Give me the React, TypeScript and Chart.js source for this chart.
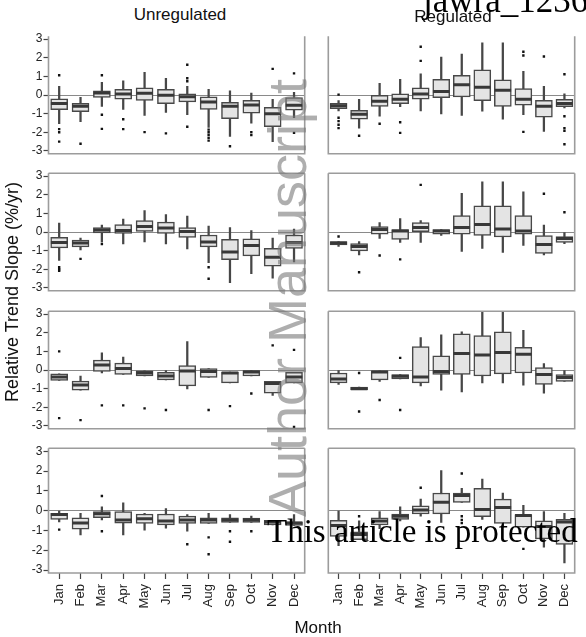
import React, { useEffect, useRef } from 'react';
import { Chart, registerables } from 'chart.js';

Chart.register(...registerables);
Chart.defaults.font.family = "'Liberation Sans', Arial, sans-serif";

const months = ['Jan', 'Feb', 'Mar', 'Apr', 'May', 'Jun', 'Jul', 'Aug', 'Sep', 'Oct', 'Nov', 'Dec'];
const yTicks = [-3, -2, -1, 0, 1, 2, 3];
const Y_MIN = -3.15;
const Y_MAX = 3.15;
const columnTitles = ['Unregulated', 'Regulated'];
const xTitle = 'Month';
const yTitle = 'Relative Trend Slope (%/yr)';

// each month: [whisker low, Q1, median, Q3, whisker high]
const unreg1: number[][] = [
  [-1.54, -0.79, -0.45, -0.21, 0.47], [-1.43, -0.9, -0.61, -0.45, -0.13], [-0.61, -0.13, 0.11, 0.23, 0.68],
  [-0.77, -0.23, 0.06, 0.31, 0.76], [-1.09, -0.29, 0.1, 0.39, 1.22], [-0.93, -0.47, -0.02, 0.31, 0.9],
  [-1.06, -0.37, -0.1, 0.06, 0.47], [-1.74, -0.77, -0.37, -0.1, 0.31], [-2.22, -1.27, -0.61, -0.39, 0.23],
  [-1.51, -0.98, -0.53, -0.29, 0.1], [-2.5, -1.7, -1.01, -0.66, -0.23], [-1.22, -0.82, -0.55, -0.14, 0.14],
];
const unreg1Out: number[][] = [
  [1.06, -1.83, -2.0, -2.5], [-2.62], [1.06, -1.06, -1.82], [-1.3, -1.83], [-1.99], [-2.06],
  [1.62, 0.9, 0.74, -1.7], [-1.86, -2.0, -2.15, -2.3, -2.45], [-2.75], [-1.99, -2.15], [1.4], [1.16, -2.03],
];
const reg1: number[][] = [
  [-0.85, -0.74, -0.58, -0.45, -0.3], [-1.78, -1.3, -1.03, -0.82, -0.23], [-1.14, -0.61, -0.34, -0.02, 0.63],
  [-0.63, -0.47, -0.23, 0.06, 0.84], [-0.85, -0.23, 0.06, 0.39, 1.14], [-1.01, -0.14, 0.19, 0.84, 2.04],
  [-1.09, -0.1, 0.55, 1.06, 2.2], [-0.87, -0.31, 0.42, 1.35, 2.8], [-1.3, -0.61, 0.26, 0.82, 2.8],
  [-1.06, -0.55, -0.23, 0.35, 1.27], [-1.95, -1.19, -0.61, -0.29, 0.47], [-0.7, -0.63, -0.45, -0.23, 0.06],
];
const reg1Out: number[][] = [
  [0.02, -1.22, -1.4, -1.6, -1.78], [-2.19], [-1.54], [-1.46, -2.03], [2.59, 1.83], [],
  [], [], [], [2.32, 2.12, -1.98], [2.07], [1.11, -1.14, -1.78, -1.92, -2.64],
];
const unreg2: number[][] = [
  [-1.52, -0.85, -0.56, -0.29, 0.48], [-0.96, -0.8, -0.59, -0.43, -0.32], [-0.53, -0.05, 0.11, 0.24, 0.37],
  [-0.64, -0.08, 0.08, 0.4, 0.69], [-0.53, 0.03, 0.29, 0.61, 1.15], [-0.64, -0.08, 0.21, 0.53, 0.93],
  [-0.91, -0.29, 0.03, 0.24, 0.85], [-1.65, -0.8, -0.53, -0.16, 0.32], [-2.72, -1.49, -1.07, -0.4, 0.24],
  [-2.24, -1.28, -0.72, -0.37, 0.08], [-2.48, -1.84, -1.36, -0.88, -0.32], [-1.6, -0.88, -0.56, -0.16, 0.16],
];
const unreg2Out: number[][] = [
  [-1.89, -2.0, -2.08], [-1.44], [-0.64], [], [], [], [], [-1.89, -2.51], [], [], [], [],
];
const reg2: number[][] = [
  [-0.78, -0.69, -0.59, -0.51, -0.51], [-1.23, -1.01, -0.78, -0.62, -0.51], [-0.35, -0.11, 0.13, 0.29, 0.5],
  [-0.56, -0.4, 0.05, 0.13, 0.72], [-0.56, 0.02, 0.24, 0.5, 0.61], [-0.19, -0.11, 0.05, 0.13, 0.13],
  [-1.04, -0.11, 0.24, 0.88, 2.08], [-0.88, -0.19, 0.4, 1.41, 2.69], [-1.1, -0.27, 0.16, 1.41, 2.69],
  [-0.72, -0.11, 0.05, 0.88, 2.16], [-1.23, -1.15, -0.67, -0.19, 0.37], [-0.62, -0.56, -0.35, -0.24, -0.03],
];
const reg2Out: number[][] = [
  [-0.24], [-2.16], [-1.26], [-1.47], [2.53], [], [], [], [], [], [2.05], [1.06],
];
const unreg3: number[][] = [
  [-0.56, -0.56, -0.37, -0.21, -0.21], [-1.08, -1.08, -0.81, -0.6, -0.32], [-0.16, -0.08, 0.27, 0.53, 0.92],
  [-0.24, -0.24, 0.08, 0.37, 0.69], [-0.32, -0.32, -0.16, -0.05, -0.05], [-0.53, -0.53, -0.32, -0.13, 0.0],
  [-1.02, -0.85, -0.05, 0.24, 1.53], [-0.4, -0.4, -0.08, 0.08, 0.08], [-0.69, -0.69, -0.16, -0.11, -0.11],
  [-0.32, -0.32, -0.11, 0.0, 0.0], [-1.37, -1.24, -0.73, -0.61, -0.61], [-0.69, -0.69, -0.37, -0.13, -0.13],
];
const unreg3Out: number[][] = [
  [1.0, -2.58], [-2.69], [-1.9], [-1.9], [-2.06], [-2.15], [], [-2.15], [-1.94], [-1.26], [1.32], [1.08, -3.05],
];
const reg3: number[][] = [
  [-0.77, -0.69, -0.48, -0.16, 0.0], [-1.05, -1.05, -1.0, -0.92, -0.92], [-0.61, -0.53, -0.11, -0.05, -0.05],
  [-0.48, -0.48, -0.34, -0.24, -0.24], [-0.85, -0.69, -0.37, 1.26, 1.74], [-1.08, -0.24, -0.08, 0.76, 1.89],
  [-1.18, -0.24, 0.89, 1.94, 2.05], [-0.69, -0.32, 0.81, 1.85, 3.1], [-0.69, -0.21, 0.94, 2.05, 3.1],
  [-0.81, -0.16, 0.85, 1.21, 2.13], [-1.24, -0.77, -0.24, 0.13, 0.35], [-0.61, -0.61, -0.4, -0.24, -0.03],
];
const reg3Out: number[][] = [
  [], [-0.16, -2.23], [-1.61], [0.65, -2.15], [], [], [], [], [], [], [], [],
];
const unreg4: number[][] = [
  [-0.57, -0.44, -0.2, -0.13, 0.0], [-1.22, -0.94, -0.63, -0.36, -0.13], [-0.47, -0.36, -0.16, -0.05, 0.19],
  [-1.22, -0.63, -0.47, -0.05, 0.39], [-0.99, -0.64, -0.41, -0.17, -0.13], [-0.88, -0.72, -0.52, -0.17, 0.11],
  [-1.04, -0.64, -0.47, -0.28, -0.2], [-0.64, -0.64, -0.47, -0.36, -0.13], [-0.6, -0.6, -0.47, -0.36, -0.2],
  [-0.6, -0.6, -0.47, -0.38, -0.28], [-0.72, -0.72, -0.57, -0.49, -0.49], [-0.75, -0.75, -0.63, -0.57, -0.2],
];
const unreg4Out: number[][] = [
  [-0.96], [], [0.74, -1.04], [], [], [], [-1.7], [-1.35, -2.2], [-1.04, -1.57], [-1.04], [], [],
];
const reg4: number[][] = [
  [-1.77, -1.3, -0.75, -0.49, 0.0], [-1.46, -1.46, -1.2, -1.07, -0.52], [-0.91, -0.72, -0.52, -0.36, -0.05],
  [-0.52, -0.44, -0.28, -0.17, 0.19], [-0.28, -0.17, 0.03, 0.24, 0.58], [-0.6, -0.16, 0.42, 0.89, 2.03],
  [0.42, 0.42, 0.77, 0.89, 1.13], [-0.44, -0.31, 0.06, 1.13, 1.6], [-0.83, -0.64, 0.16, 0.58, 0.89],
  [-0.83, -0.83, -0.25, -0.2, 0.27], [-1.85, -1.43, -0.8, -0.52, -0.05], [-2.64, -1.7, -0.57, -0.44, -0.13],
];
const reg4Out: number[][] = [
  [], [-0.28], [], [], [1.16], [], [1.88, -0.28, -0.47, -0.63], [], [], [-1.93], [], [],
];

// layout (styling only)
const COLS = [
  { left: 0, width: 316, padL: 0, padR: 2.5, yWidth: 48.5, showY: true },
  { left: 317, width: 269, padL: 3, padR: 1, yWidth: 0, showY: false },
];
const ROWS = [
  { top: 29, bottom: 160.5, borderTop: false },
  { top: 166.5, bottom: 298, borderTop: true },
  { top: 304, bottom: 435.5, borderTop: true },
  { top: 441.5, bottom: 573, borderTop: true },
];
const PAGE_H = 637;

const panelBorder = {
  id: 'panelBorder',
  afterDatasetsDraw(chart: any, _args: any, opts: any) {
    const { left, right, top, bottom } = chart.chartArea;
    const ctx = chart.ctx;
    ctx.save();
    ctx.strokeStyle = '#9c9c9c';
    ctx.lineWidth = 1.6;
    ctx.beginPath();
    if (opts.top) {
      ctx.moveTo(left, top);
      ctx.lineTo(right, top);
    }
    ctx.moveTo(left, top);
    ctx.lineTo(left, bottom);
    ctx.lineTo(right, bottom);
    ctx.lineTo(right, top);
    ctx.stroke();
    ctx.restore();
  },
};

type PanelProps = { stats: number[][]; outliers: number[][]; col: number; row: number };

function Panel({ stats, outliers, col, row }: PanelProps) {
  const ref = useRef<HTMLCanvasElement>(null);
  const c = COLS[col];
  const r = ROWS[row];
  const isBottom = row === ROWS.length - 1;
  const top = Math.floor(r.top - 4);
  const bottom = isBottom ? PAGE_H : Math.ceil(r.bottom + 4);
  const height = bottom - top;
  const padTop = r.top - top;
  const padBottom = isBottom ? 0 : bottom - r.bottom;
  const xHeight = isBottom ? PAGE_H - r.bottom : 0;

  useEffect(() => {
    const whiskers = {
      type: 'bar',
      data: stats.map((s) => [s[0], s[4]]),
      backgroundColor: '#474747',
      borderWidth: 0,
      barThickness: 1.6,
      grouped: false,
      order: 3,
    };
    const boxes = {
      type: 'bar',
      data: stats.map((s) => [s[1], s[3]]),
      backgroundColor: '#e4e4e4',
      borderColor: '#484848',
      borderWidth: 1.5,
      borderSkipped: false,
      barThickness: 17,
      grouped: false,
      order: 2,
    };
    const medians = {
      type: 'scatter',
      data: stats.map((s, i) => ({ x: months[i], y: s[2] })),
      pointStyle: 'line',
      pointRadius: 8.3,
      borderColor: '#383838',
      borderWidth: 3,
      order: 0,
    };
    const outs = {
      type: 'scatter',
      data: outliers.flatMap((arr, i) => arr.map((v) => ({ x: months[i], y: v }))),
      pointStyle: 'rect',
      pointRadius: 1.7,
      backgroundColor: '#111',
      borderWidth: 0,
      order: 1,
    };
    const chart = new Chart(ref.current as HTMLCanvasElement, {
      type: 'bar',
      data: { labels: months, datasets: [medians, outs, boxes, whiskers] as any },
      plugins: [panelBorder as any],
      options: {
        responsive: false,
        maintainAspectRatio: false,
        animation: false,
        devicePixelRatio: 1,
        events: [],
        layout: { padding: { top: padTop, bottom: padBottom, left: c.padL, right: c.padR } },
        plugins: {
          legend: { display: false },
          tooltip: { enabled: false },
          panelBorder: { top: r.borderTop },
        } as any,
        scales: {
          x: {
            type: 'category',
            offset: true,
            display: isBottom,
            afterFit: (s: any) => {
              s.height = xHeight;
              s.paddingLeft = 0;
              s.paddingRight = 0;
            },
            ticks: {
              autoSkip: false,
              minRotation: 90,
              maxRotation: 90,
              padding: 5,
              color: '#222',
              font: { size: 13 },
            },
            grid: {
              offset: false,
              drawOnChartArea: false,
              drawTicks: true,
              tickLength: 6,
              tickColor: '#444',
              tickWidth: 1.2,
            },
            border: { display: false },
          },
          y: {
            type: 'linear',
            min: Y_MIN,
            max: Y_MAX,
            afterBuildTicks: (s: any) => {
              s.ticks = yTicks.map((v) => ({ value: v }));
            },
            afterFit: (s: any) => {
              s.width = c.yWidth;
              s.paddingTop = 0;
              s.paddingBottom = 0;
            },
            ticks: {
              display: c.showY,
              padding: 1,
              color: '#222',
              font: { size: 12 },
              callback: (v: any) => String(v),
            },
            grid: {
              drawTicks: c.showY,
              tickLength: 5,
              tickColor: '#444',
              tickWidth: 1.2,
              lineWidth: 1,
              color: (ctx: any) => (ctx.tick && ctx.tick.value === 0 ? '#8a8a8a' : 'rgba(0,0,0,0)'),
            },
            border: { display: false },
          },
        },
      } as any,
    });
    return () => chart.destroy();
  }, []);

  return (
    <canvas
      ref={ref}
      width={c.width}
      height={height}
      style={{ position: 'absolute', left: c.left, top, width: c.width, height }}
    />
  );
}

const sans = "'Liberation Sans', Arial, sans-serif";
const serif = "'Liberation Serif', 'Times New Roman', serif";

export default function App() {
  const panels = [
    [unreg1, unreg1Out, reg1, reg1Out],
    [unreg2, unreg2Out, reg2, reg2Out],
    [unreg3, unreg3Out, reg3, reg3Out],
    [unreg4, unreg4Out, reg4, reg4Out],
  ];
  return (
    <div
      style={{
        position: 'absolute',
        left: 0,
        top: 0,
        width: 586,
        height: 637,
        overflow: 'hidden',
        background: '#fff',
      }}
    >
      {panels.map((p, row) => (
        <React.Fragment key={row}>
          <Panel stats={p[0]} outliers={p[1]} col={0} row={row} />
          <Panel stats={p[2]} outliers={p[3]} col={1} row={row} />
        </React.Fragment>
      ))}
      <div
        style={{
          position: 'absolute', left: 80, top: 6, width: 200, textAlign: 'center',
          fontFamily: sans, fontSize: 17, lineHeight: '17px', color: '#111', whiteSpace: 'nowrap',
        }}
      >
        {columnTitles[0]}
      </div>
      <div
        style={{
          position: 'absolute', left: 353, top: 7.5, width: 200, textAlign: 'center',
          fontFamily: sans, fontSize: 17, lineHeight: '17px', color: '#111', whiteSpace: 'nowrap',
        }}
      >
        {columnTitles[1]}
      </div>
      <div
        style={{
          position: 'absolute', left: 218, top: 618.5, width: 200, textAlign: 'center',
          fontFamily: sans, fontSize: 17, lineHeight: '17px', color: '#111', whiteSpace: 'nowrap',
        }}
      >
        {xTitle}
      </div>
      <div
        style={{
          position: 'absolute', left: 12 - 160, top: 292 - 9, width: 320, height: 18, textAlign: 'center',
          fontFamily: sans, fontSize: 18, lineHeight: '18px', color: '#111', whiteSpace: 'nowrap',
          transform: 'rotate(-90deg)',
        }}
      >
        {yTitle}
      </div>
      <div
        style={{
          position: 'absolute', left: 287 - 260, top: 298 - 27, width: 520, height: 54, textAlign: 'center',
          fontFamily: sans, fontSize: 54, lineHeight: '54px', color: 'rgba(120,120,120,0.6)',
          whiteSpace: 'nowrap', transform: 'rotate(-90deg)', pointerEvents: 'none',
        }}
      >
        Author Manuscript
      </div>
      <div
        style={{
          position: 'absolute', left: 423, top: -17.3, fontFamily: serif, fontSize: 35,
          lineHeight: '35px', color: '#000', whiteSpace: 'nowrap',
        }}
      >
        jawra_1236
      </div>
      <div
        style={{
          position: 'absolute', left: 267, top: 515.4, fontFamily: serif, fontSize: 33,
          lineHeight: '33px', color: '#000', whiteSpace: 'nowrap',
        }}
      >
        This article is protected
      </div>
    </div>
  );
}
